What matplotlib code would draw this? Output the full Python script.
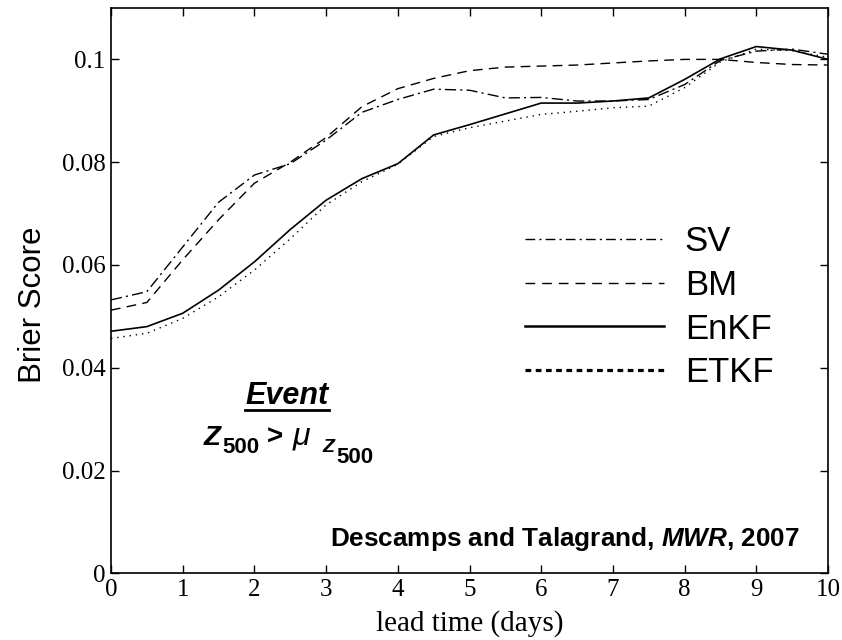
import matplotlib
matplotlib.use("Agg")
import matplotlib.pyplot as plt
from matplotlib.lines import Line2D

# Brier score vs forecast lead time for four ensemble generation methods
lead_days = [0, 0.5, 1, 1.5, 2, 2.5, 3, 3.5, 4, 4.5, 5, 5.5, 6, 6.5, 7, 7.5, 8, 8.5, 9, 9.5, 10]
sv = [0.0532, 0.0548, 0.0635, 0.0722, 0.0775, 0.0797, 0.0843, 0.0897, 0.0922, 0.0942, 0.0940,
      0.0925, 0.0926, 0.0919, 0.0919, 0.0922, 0.0951, 0.0998, 0.1016, 0.1020, 0.1010]
bm = [0.0512, 0.0527, 0.0610, 0.0688, 0.0759, 0.0800, 0.0848, 0.0908, 0.0943, 0.0963, 0.0978,
      0.0985, 0.0987, 0.0989, 0.0993, 0.0997, 0.1000, 0.1000, 0.0994, 0.0990, 0.0989]
enkf = [0.0471, 0.0480, 0.0506, 0.0551, 0.0606, 0.0669, 0.0726, 0.0768, 0.0797, 0.0853, 0.0873,
        0.0894, 0.0915, 0.0915, 0.0919, 0.0925, 0.0961, 0.1001, 0.1025, 0.1018, 0.1000]
etkf = [0.0457, 0.0467, 0.0496, 0.0538, 0.0590, 0.0651, 0.0717, 0.0762, 0.0796, 0.0850, 0.0867,
        0.0880, 0.0893, 0.0899, 0.0906, 0.0909, 0.0945, 0.0995, 0.1020, 0.1017, 0.1004]

series_labels = ["SV", "BM", "EnKF", "ETKF"]
x_ticks = [0, 1, 2, 3, 4, 5, 6, 7, 8, 9, 10]
y_ticks = [0, 0.02, 0.04, 0.06, 0.08, 0.1]
y_tick_labels = ["0", "0.02", "0.04", "0.06", "0.08", "0.1"]

plt.rcParams["mathtext.fontset"] = "custom"
plt.rcParams["mathtext.it"] = "Liberation Sans:italic:bold"
plt.rcParams["mathtext.rm"] = "Liberation Sans:bold"
plt.rcParams["mathtext.bf"] = "Liberation Sans:bold"

W, H = 842, 640
fig = plt.figure(figsize=(W / 100, H / 100), dpi=100)
ax = fig.add_axes([111 / W, 1 - 573.3 / H, (828 - 111) / W, (573.3 - 8) / H])

serif = "Liberation Serif"
sans = "Liberation Sans"


def px(x, y):
    """Pixel position (from the top-left corner) to figure fraction."""
    return x / W, 1 - y / H


ax.plot(lead_days, sv, color="black", lw=1.0, dashes=(8, 3, 1.5, 3))
ax.plot(lead_days, bm, color="black", lw=1.0, dashes=(7, 4.5))
ax.plot(lead_days, enkf, color="black", lw=1.2, linestyle="-")
ax.plot(lead_days, etkf, color="black", lw=1.0, dashes=(1, 3.5))

ax.set_xlim(0, 10)
ax.set_ylim(0, 0.110)
ax.set_xticks(x_ticks)
ax.set_xticklabels([str(t) for t in x_ticks], fontfamily=serif, fontsize=18)
ax.set_yticks(y_ticks)
ax.set_yticklabels(y_tick_labels, fontfamily=serif, fontsize=18)
ax.tick_params(direction="in", length=6, width=1.0, top=True, right=True, colors="black")
ax.tick_params(axis="y", pad=4)
ax.tick_params(axis="x", pad=4)
for sp in ax.spines.values():
    sp.set_linewidth(1.2)

fig.text(*px(470, 624), "lead time (days)", ha="center", va="center", fontfamily=serif,
         fontsize=21)
fig.text(*px(33, 304.5), "Brier Score", ha="center", va="center", rotation=90,
         fontfamily=sans, fontsize=22.5)

# legend with heavier sample lines
handles = [
    Line2D([], [], color="black", lw=1.0, dashes=(7, 3, 1.5, 3)),
    Line2D([], [], color="black", lw=1.0, dashes=(7, 5)),
    Line2D([], [], color="black", lw=1.8, linestyle="-"),
    Line2D([], [], color="black", lw=2.3, dashes=(1.8, 1.4)),
]
fig.legend(handles, series_labels, loc="upper left", bbox_to_anchor=px(525, 225),
           frameon=False, borderpad=0, borderaxespad=0, handlelength=4.0, handletextpad=0.6,
           labelspacing=0.31, prop={"family": sans, "size": 25})

# event definition
ev = fig.text(*px(287, 396), "Event", ha="center", va="center", fontfamily=sans,
              fontsize=22, fontweight="bold", fontstyle="italic")
bold_it = dict(fontfamily=sans, fontweight="bold", fontstyle="italic", va="baseline", ha="left")
bold = dict(fontfamily=sans, fontweight="bold", va="baseline", ha="left")
fig.text(*px(204, 445), "Z", fontsize=20, **bold_it)
fig.text(*px(222, 453), "500", fontsize=16, **bold)
fig.text(*px(267, 445), ">", fontsize=20, **bold)
fig.text(*px(293, 445), "\u03bc", fontsize=23, fontfamily=sans, fontstyle="italic",
         va="baseline", ha="left")
fig.text(*px(322, 452), "Z", fontsize=14, **bold_it)
fig.text(*px(336, 463), "500", fontsize=16, **bold)

fig.canvas.draw()
eb = ev.get_window_extent()
fig.add_artist(Line2D([eb.x0 / W, eb.x1 / W], [1 - 410 / H, 1 - 410 / H],
                      transform=fig.transFigure, color="black", lw=2.0))

fig.text(*px(800, 546), r"Descamps and Talagrand, $\mathit{MWR}$, 2007", ha="right",
         va="baseline", fontfamily=sans, fontsize=18.8, fontweight="bold")

fig.savefig("out.png", dpi=100)
